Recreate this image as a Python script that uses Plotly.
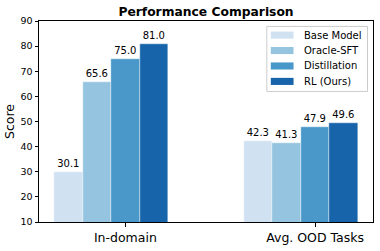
import plotly.graph_objects as go

categories = ["In-domain", "Avg. OOD Tasks"]
methods = ["Base Model", "Oracle-SFT", "Distillation", "RL (Ours)"]
scores = {
    "Base Model": [30.1, 42.3],
    "Oracle-SFT": [65.6, 41.3],
    "Distillation": [75.0, 47.9],
    "RL (Ours)": [81.0, 49.6],
}
colors = ["#d0e1f2", "#94c4df", "#4a98c9", "#1764ab"]
y_ticks = [10, 20, 30, 40, 50, 60, 70, 80, 90]

width = 0.15
offsets = [-2 * width, -1 * width, 0.0, 1 * width]
group_x = [0, 1]

FONT = "DejaVu Sans"
W, H = 380, 251
ML, MR, MT, MB = 39, 6, 21, 26
PW, PH = W - ML - MR, H - MT - MB


def px_x(p):
    return (p - ML) / PW


def px_y(p):
    return (H - MB - p) / PH


fig = go.Figure()
for m, c, off in zip(methods, colors, offsets):
    fig.add_trace(go.Bar(
        x=[g + off for g in group_x],
        y=scores[m],
        width=width,
        name=m,
        marker=dict(color=c, line=dict(color="white", width=0.4)),
        text=[f"{v:.1f}" for v in scores[m]],
        textposition="outside",
        textfont=dict(family=FONT, size=10, color="black"),
        cliponaxis=False,
        showlegend=False,
    ))

# legend drawn as a framed box with swatches (matplotlib-style)
shapes = [dict(type="rect", xref="paper", yref="paper",
               x0=px_x(267.5), x1=px_x(368.5), y0=px_y(92.5), y1=px_y(26.5),
               line=dict(color="#cccccc", width=1), fillcolor="rgba(255,255,255,0.8)",
               layer="above")]
annotations = []
for i, (m, c) in enumerate(zip(methods, colors)):
    cy = 35.3 + i * 15.67
    shapes.append(dict(type="rect", xref="paper", yref="paper",
                       x0=px_x(271.5), x1=px_x(294.3), y0=px_y(cy + 3.6), y1=px_y(cy - 3.6),
                       line=dict(width=0), fillcolor=c, layer="above"))
    annotations.append(dict(text=m, xref="paper", yref="paper", x=px_x(302.5), y=px_y(cy),
                            xanchor="left", yanchor="middle", showarrow=False,
                            font=dict(family=FONT, size=10, color="black")))

fig.update_layout(
    width=W, height=H,
    margin=dict(l=ML, r=MR, t=MT, b=MB),
    paper_bgcolor="white", plot_bgcolor="white",
    font=dict(family=FONT, color="black"),
    bargap=0, barmode="overlay",
    title=dict(text="<b>Performance Comparison</b>", x=0.5, xref="paper",
               y=1 - 12 / H, yref="container", yanchor="middle",
               font=dict(family=FONT, size=12.3, color="black")),
    shapes=shapes,
    annotations=annotations,
    showlegend=False,
)
fig.update_xaxes(
    range=[-0.455, 1.305], tickmode="array", tickvals=group_x, ticktext=categories,
    showline=True, linecolor="black", linewidth=1, mirror=True,
    ticks="outside", ticklen=3.5, tickwidth=0.8, tickcolor="black",
    tickfont=dict(family=FONT, size=12.5), showgrid=False, zeroline=False,
)
fig.update_yaxes(
    range=[10, 90], tickmode="array", tickvals=y_ticks,
    showline=True, linecolor="black", linewidth=1, mirror=True,
    ticks="outside", ticklen=3.5, tickwidth=0.8, tickcolor="black",
    tickfont=dict(family=FONT, size=9.5), showgrid=False, zeroline=False,
    title=dict(text="Score", font=dict(family=FONT, size=12.5), standoff=3),
)
fig.write_html("out.html", config={"displayModeBar": False},
               post_script="document.body.style.margin='0';")
